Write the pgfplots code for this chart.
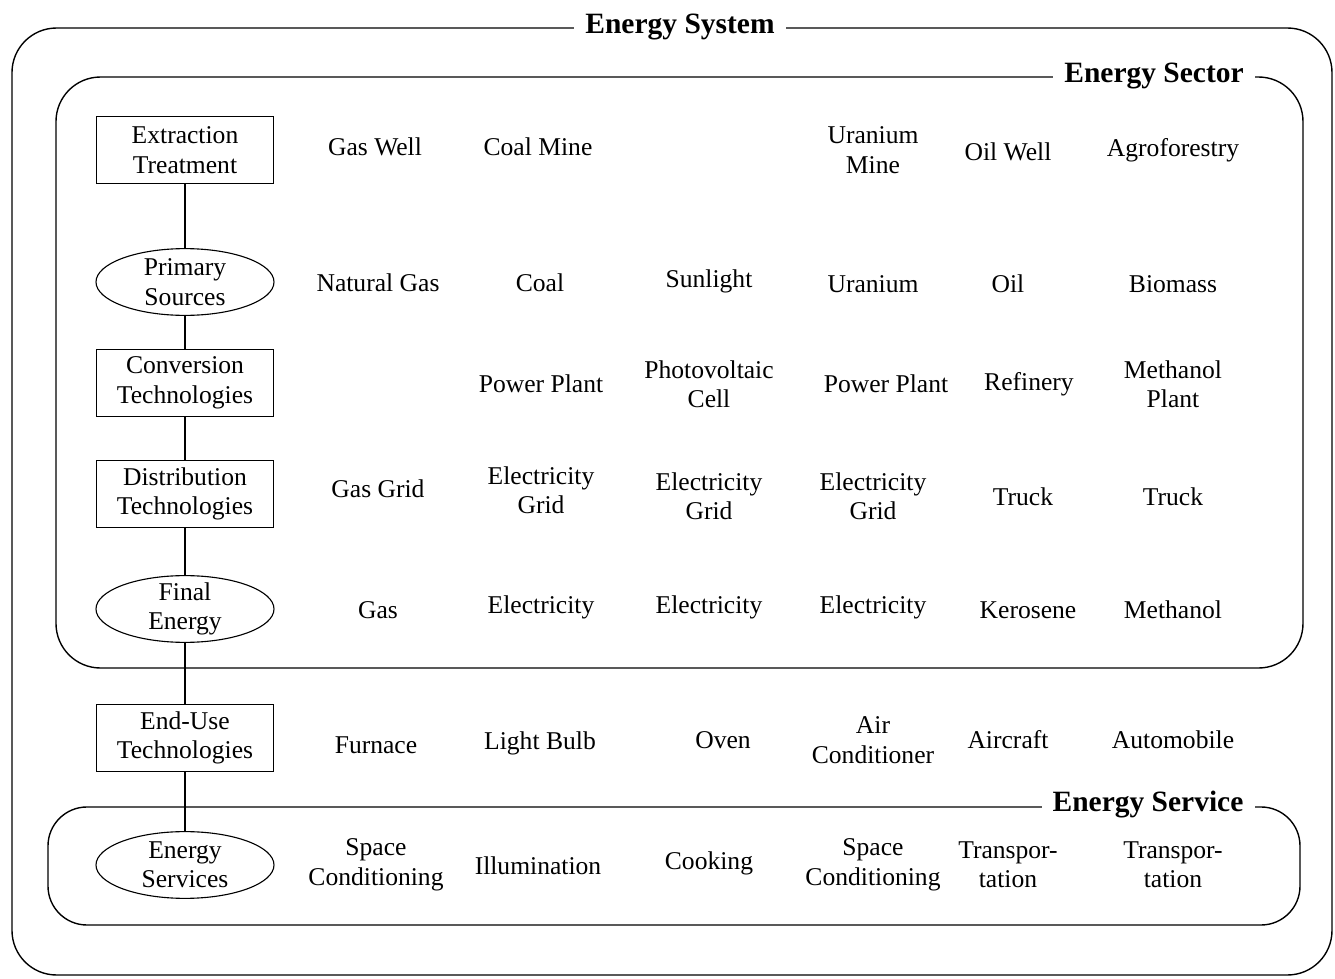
\documentclass[border=0pt]{standalone}
\usepackage{pgfplots}
\pgfplotsset{compat=1.18}
\usetikzlibrary{shapes.geometric}
\usepackage{fontspec}
\setmainfont{Liberation Serif}
\tikzset{
  t/.style={font=\fontsize{9.2}{10.6}\selectfont, align=center, inner sep=1pt},
  bx/.style={t, draw, fill=white, minimum width=63.7pt, minimum height=24pt, text width=60pt},
  el/.style={draw, fill=white, ellipse, minimum width=64pt, minimum height=24pt, inner sep=0pt},
  ttl/.style={fill=white, font=\fontsize{10.6}{12}\selectfont\bfseries, inner xsep=4pt, inner ysep=1pt},
}
\begin{document}
\begin{tikzpicture}
\begin{axis}[
  scale only axis, width=480pt, height=352pt,
  xmin=0, xmax=1335, ymin=0, ymax=979, y dir=reverse,
  hide axis, clip=false,
]
\path (axis cs:0,0) rectangle (axis cs:1335,979);
% frames
\draw[line width=0.5pt, rounded corners=16pt] (axis cs:12,28) rectangle (axis cs:1332,975);
\draw[line width=0.5pt, rounded corners=16pt] (axis cs:56,77) rectangle (axis cs:1303,668);
\draw[line width=0.5pt, rounded corners=14pt] (axis cs:48,807) rectangle (axis cs:1300,925);
\node[ttl] at (axis cs:680,27) {Energy System};
\node[ttl] at (axis cs:1154,76) {Energy Sector};
\node[ttl] at (axis cs:1148,805) {Energy Service};
% spine
\draw[line width=0.5pt] (axis cs:185,183) -- (axis cs:185,832);
% left column
\node[bx] at (axis cs:185,150) {Extraction\\Treatment};
\node[el] at (axis cs:185,282) {};
\node[t] at (axis cs:185,282) {Primary\\Sources};
\node[bx] at (axis cs:185,383) {Conversion\\Technologies};
\node[bx] at (axis cs:185,494) {Distribution\\Technologies};
\node[el] at (axis cs:185,609) {};
\node[t] at (axis cs:185,609) {Final\\Energy};
\node[bx] at (axis cs:185,738) {End-Use\\Technologies};
\node[el] at (axis cs:185,865) {};
\node[t] at (axis cs:185,865) {Energy\\Services};
% row 1
\node[t] at (axis cs:375,147) {Gas Well};
\node[t] at (axis cs:538,147) {Coal Mine};
\node[t] at (axis cs:873,150) {Uranium\\Mine};
\node[t] at (axis cs:1008,152) {Oil Well};
\node[t] at (axis cs:1173,150) {Agroforestry};
% row 2
\node[t] at (axis cs:378,283) {Natural Gas};
\node[t] at (axis cs:540,283) {Coal};
\node[t] at (axis cs:709,281) {Sunlight};
\node[t] at (axis cs:873,284) {Uranium};
\node[t] at (axis cs:1008,284) {Oil};
\node[t] at (axis cs:1173,284) {Biomass};
% row 3
\node[t] at (axis cs:541,384) {Power Plant};
\node[t] at (axis cs:709,384) {Photovoltaic\\Cell};
\node[t] at (axis cs:886,384) {Power Plant};
\node[t] at (axis cs:1029,384) {Refinery};
\node[t] at (axis cs:1173,384) {Methanol\\Plant};
% row 4
\node[t] at (axis cs:378,489) {Gas Grid};
\node[t] at (axis cs:541,490) {Electricity\\Grid};
\node[t] at (axis cs:709,496) {Electricity\\Grid};
\node[t] at (axis cs:873,496) {Electricity\\Grid};
\node[t] at (axis cs:1023,497) {Truck};
\node[t] at (axis cs:1173,497) {Truck};
% row 5
\node[t] at (axis cs:378,610) {Gas};
\node[t] at (axis cs:541,607) {Electricity};
\node[t] at (axis cs:709,607) {Electricity};
\node[t] at (axis cs:873,607) {Electricity};
\node[t] at (axis cs:1028,610) {Kerosene};
\node[t] at (axis cs:1173,610) {Methanol};
% row 6
\node[t] at (axis cs:376,745) {Furnace};
\node[t] at (axis cs:540,743) {Light Bulb};
\node[t] at (axis cs:723,740) {Oven};
\node[t] at (axis cs:873,740) {Air\\Conditioner};
\node[t] at (axis cs:1008,740) {Aircraft};
\node[t] at (axis cs:1173,740) {Automobile};
% row 7
\node[t] at (axis cs:376,865) {Space\\Conditioning};
\node[t] at (axis cs:538,866) {Illumination};
\node[t] at (axis cs:709,863) {Cooking};
\node[t] at (axis cs:873,865) {Space\\Conditioning};
\node[t] at (axis cs:1008,865) {Transpor-\\tation};
\node[t] at (axis cs:1173,865) {Transpor-\\tation};
\end{axis}
\end{tikzpicture}
\end{document}
